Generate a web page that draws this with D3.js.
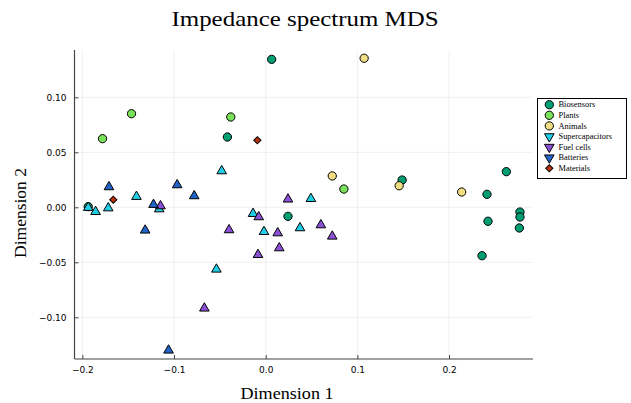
<!DOCTYPE html>
<html>
<head>
<meta charset="utf-8">
<script src="https://cdn.jsdelivr.net/npm/d3@7"></script>
<style>
  body { margin: 0; background: #fff; }
  svg { display: block; }
</style>
</head>
<body>
<svg id="chart"></svg>
<script>
// series, in legend order
var seriesNames = ["Biosensors", "Plants", "Animals", "Supercapacitors", "Fuel cells", "Batteries", "Materials"];
var seriesColors = ["#009e73", "#7ae25a", "#f0dc82", "#20cfe6", "#8c50d6", "#2164c8", "#b8320c"];
var seriesShapes = ["circle", "circle", "circle", "triangle", "triangle", "triangle", "diamond"];

var biosensorsX = [0.0065, -0.0418, 0.1488, 0.2625, 0.2414, 0.2774, 0.2774, 0.2767, 0.2425, 0.236, 0.0243, -0.1936];
var biosensorsY = [0.1345, 0.0639, 0.0248, 0.0324, 0.0118, -0.0043, -0.0088, -0.0188, -0.0127, -0.044, -0.0082, 0.0006];
var plantsX = [-0.178, -0.1464, -0.0381, 0.0853];
var plantsY = [0.0624, 0.0851, 0.0821, 0.0166];
var animalsX = [0.1074, 0.0726, 0.1456, 0.2138];
var animalsY = [0.1355, 0.0285, 0.0196, 0.0139];
var supercapX = [-0.048, -0.141, -0.1936, -0.1856, -0.1718, -0.1162, -0.0138, -0.0019, 0.0374, 0.0493, -0.0538];
var supercapY = [0.033, 0.0097, -0.0003, -0.004, -0.0007, -0.0016, -0.0058, -0.0222, -0.0188, 0.0078, -0.0564];
var fuelCellsX = [-0.1148, -0.040, -0.0076, -0.0084, 0.0131, 0.0148, 0.0243, 0.0602, 0.0726, -0.0669];
var fuelCellsY = [0.0012, -0.0206, -0.0088, -0.0431, -0.0234, -0.037, 0.0073, -0.0161, -0.0264, -0.0918];
var batteriesX = [-0.171, -0.0966, -0.078, -0.1224, -0.1315, -0.106];
var batteriesY = [0.0185, 0.0203, 0.0103, 0.0024, -0.0209, -0.130];
var materialsX = [-0.0091, -0.1663];
var materialsY = [0.0609, 0.0069];

var xTicks = [-0.2, -0.1, 0.0, 0.1, 0.2];
var yTicks = [-0.10, -0.05, 0.00, 0.05, 0.10];

var allX = [biosensorsX, plantsX, animalsX, supercapX, fuelCellsX, batteriesX, materialsX];
var allY = [biosensorsY, plantsY, animalsY, supercapY, fuelCellsY, batteriesY, materialsY];

var width = 631, height = 403;
var mLeft = 74.5, mRight = 533, mTop = 50, mBottom = 359;

var svg = d3.select("#chart").attr("width", width).attr("height", height);

var x = d3.scaleLinear().domain([-0.2086, 0.2916]).range([mLeft, mRight]);
var y = d3.scaleLinear().domain([-0.1379, 0.1430]).range([mBottom, mTop]);

var fmtTick = function (d, digits) {
    return d3.format("." + digits + "f")(d).replace("-", "\u2212");
};

// grid
var g = svg.append("g");
g.selectAll(".gx").data(xTicks).enter().append("line")
    .attr("x1", d => x(d)).attr("x2", d => x(d))
    .attr("y1", mTop).attr("y2", mBottom)
    .attr("stroke", "#000").attr("stroke-opacity", 0.1).attr("stroke-width", 0.6);
g.selectAll(".gy").data(yTicks).enter().append("line")
    .attr("x1", mLeft).attr("x2", mRight)
    .attr("y1", d => y(d)).attr("y2", d => y(d))
    .attr("stroke", "#000").attr("stroke-opacity", 0.1).attr("stroke-width", 0.6);

// axes (ticks point inward)
var xAxis = d3.axisBottom(x).tickValues(xTicks).tickSizeInner(-4).tickSizeOuter(0)
    .tickPadding(8).tickFormat(d => fmtTick(d, 1));
var yAxis = d3.axisLeft(y).tickValues(yTicks).tickSizeInner(-4).tickSizeOuter(0)
    .tickPadding(8).tickFormat(d => fmtTick(d, 2));

var gx = svg.append("g").attr("transform", "translate(0," + mBottom + ")").call(xAxis);
var gy = svg.append("g").attr("transform", "translate(" + mLeft + ",0)").call(yAxis);
[gx, gy].forEach(a => {
    a.select(".domain").attr("stroke", "#444").attr("stroke-width", 1.2);
    a.selectAll(".tick line").attr("stroke", "#444").attr("stroke-width", 1);
    a.selectAll(".tick text").attr("font-family", "DejaVu Sans").attr("font-size", 9).attr("fill", "#000");
});
gy.select(".domain").attr("d", "M0," + mTop + "V" + mBottom);
gx.select(".domain").attr("d", "M" + mLeft + ",0H" + mRight);

// markers
var symbolFor = function (shape) {
    if (shape === "circle") return d3.symbol(d3.symbolCircle, 54)();
    if (shape === "diamond") return d3.symbol(d3.symbolSquare, 26)();
    return d3.symbol(d3.symbolTriangle, 40)();
};
var rotFor = function (shape, legend) {
    if (shape === "diamond") return " rotate(45)";
    if (shape === "triangle" && legend) return " rotate(180)";
    return "";
};

seriesNames.forEach((name, i) => {
    var pts = allX[i].map((v, j) => [v, allY[i][j]]);
    svg.append("g").selectAll("path").data(pts).enter().append("path")
        .attr("d", symbolFor(seriesShapes[i]))
        .attr("transform", d => "translate(" + x(d[0]) + "," + y(d[1]) + ")" + rotFor(seriesShapes[i], false))
        .attr("fill", seriesColors[i])
        .attr("stroke", "#000").attr("stroke-width", 1);
});

// legend (Plots draws the triangles upside down here)
var lg = svg.append("g");
lg.append("rect").attr("x", 537.5).attr("y", 98.5).attr("width", 89).attr("height", 80)
    .attr("fill", "#fff").attr("stroke", "#000").attr("stroke-width", 1);
seriesNames.forEach((name, i) => {
    var ly = 104.7 + i * 10.6;
    lg.append("path")
        .attr("d", symbolFor(seriesShapes[i]))
        .attr("transform", "translate(549.3," + ly + ")" + rotFor(seriesShapes[i], true))
        .attr("fill", seriesColors[i]).attr("stroke", "#000").attr("stroke-width", 1);
    lg.append("text").attr("x", 558.5).attr("y", ly + 2.7)
        .attr("font-family", "Liberation Serif").attr("font-size", 8.4)
        .text(name);
});

// titles
svg.append("text").attr("x", 305).attr("y", 26).attr("text-anchor", "middle")
    .attr("font-family", "Liberation Serif").attr("font-size", 22)
    .attr("textLength", 267).attr("lengthAdjust", "spacingAndGlyphs")
    .text("Impedance spectrum MDS");
svg.append("text").attr("x", 287).attr("y", 399).attr("text-anchor", "middle")
    .attr("font-family", "Liberation Serif").attr("font-size", 17)
    .attr("textLength", 93).attr("lengthAdjust", "spacingAndGlyphs")
    .text("Dimension 1");
svg.append("text").attr("transform", "translate(26,213) rotate(-90)").attr("text-anchor", "middle")
    .attr("font-family", "Liberation Serif").attr("font-size", 17)
    .attr("textLength", 90).attr("lengthAdjust", "spacingAndGlyphs")
    .text("Dimension 2");
</script>
</body>
</html>
